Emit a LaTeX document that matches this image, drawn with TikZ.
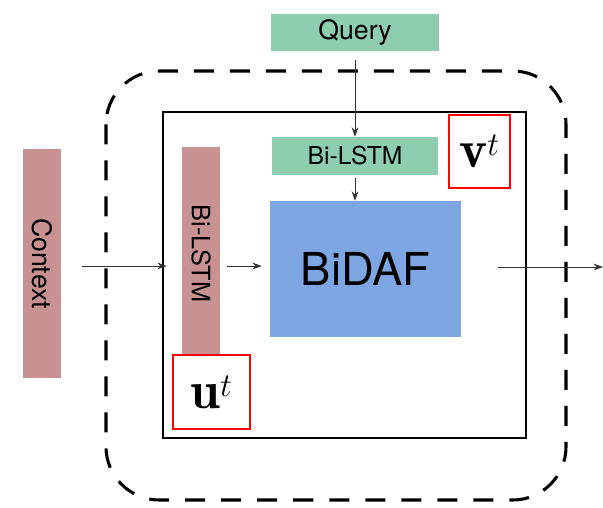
\documentclass[tikz,border=0pt]{standalone}
\usepackage{fontspec}
\setsansfont{TeX Gyre Heros}
\usetikzlibrary{arrows.meta}
\definecolor{qgreen}{RGB}{142,205,176}
\definecolor{cpink}{RGB}{201,146,146}
\definecolor{bblue}{RGB}{125,166,226}
\tikzset{
  block/.style={draw=none, inner sep=0pt, font=\sffamily},
  tag/.style={draw=red, line width=1.1pt, fill=white, inner sep=0pt},
  flow/.style={-{Stealth[length=7pt,width=5pt]}, line width=0.6pt, black!80},
}
\begin{document}
\begin{tikzpicture}[x=0.75pt,y=-0.75pt]
\useasboundingbox (0,0) rectangle (603,507);
% dashed outer frame and solid inner frame
\draw[line width=2.3pt, dash pattern=on 15pt off 12pt, rounded corners=40pt]
  (106,71) rectangle (566,500);
\node[draw, line width=1.1pt, minimum width=363*0.75pt, minimum height=326*0.75pt,
  inner sep=0pt] (inner) at (344.5,275) {};
% inputs
\node[block, fill=qgreen, minimum width=168*0.75pt, minimum height=37*0.75pt,
  font=\sffamily\fontsize{20}{22}\selectfont] (query) at (355,32.5) {Query};
\node[block, fill=cpink, minimum width=229*0.75pt, minimum height=38*0.75pt,
  rotate=-90, font=\sffamily\fontsize{20}{22}\selectfont] (ctx) at (42,263.5) {Context};
% encoders
\node[block, fill=qgreen, minimum width=166*0.75pt, minimum height=38*0.75pt,
  font=\sffamily\fontsize{18.5}{20}\selectfont] (lstmq) at (355,156) {Bi-LSTM};
\node[block, fill=cpink, minimum width=213*0.75pt, minimum height=38*0.75pt,
  rotate=-90, font=\sffamily\fontsize{19}{21}\selectfont] (lstmc) at (201,253.5) {Bi-LSTM};
% attention layer
\node[block, fill=bblue, minimum width=191*0.75pt, minimum height=136*0.75pt,
  font=\sffamily\fontsize{34}{36}\selectfont] (bidaf) at (365.5,269) {BiDAF};
% highlighted vectors
\node[tag, minimum width=77*0.75pt, minimum height=74*0.75pt] (ubox) at (211.5,392)
  {\fontsize{40}{42}\selectfont$\mathbf{u}^t$};
\node[tag, minimum width=61*0.75pt, minimum height=73*0.75pt] (vbox) at (479.5,151.5)
  {\fontsize{40}{42}\selectfont$\mathbf{v}^t$};
\coordinate (out) at (603,267);
% connectors (rotated blocks: north faces right, south faces left)
\draw[flow, shorten <=6.75pt] (query.south) -- (lstmq.north);
\draw[flow, shorten <=2.25pt] (lstmq.south) -- (lstmq.south |- bidaf.north);
\draw[flow, shorten <=15.75pt, shorten >=11.25pt] (ctx.north |- 0,266) -- (lstmc.south |- 0,266);
\draw[flow, shorten <=5.25pt, shorten >=6pt] (lstmc.north |- 0,266) -- (bidaf.west |- 0,266);
\draw[flow, shorten <=27.75pt] (bidaf.east |- 0,267) -- (out);
\end{tikzpicture}
\end{document}
